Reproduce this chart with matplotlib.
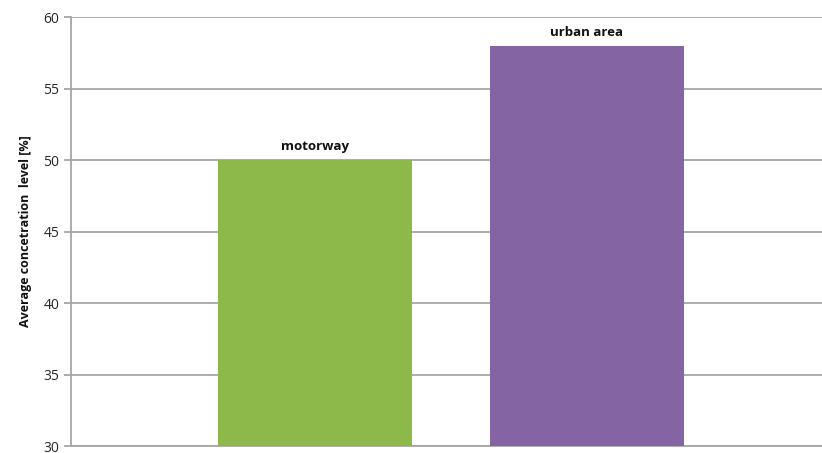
import matplotlib
matplotlib.use("Agg")
import matplotlib.pyplot as plt

categories = ["motorway", "urban area"]
values = [50, 58]
colors = ["#8DB84A", "#8564A3"]
yticks = [30, 35, 40, 45, 50, 55, 60]

plt.rcParams['font.family'] = ['Open Sans', 'DejaVu Sans']

fig = plt.figure(figsize=(8.22, 4.53), dpi=100)
ax = fig.add_axes([71/822, 1 - 446/453, (822-71)/822, (446-17)/453])

x = list(range(len(categories)))
ax.bar(x, values, width=0.714, color=colors, zorder=3)
for xi, v, c in zip(x, values, categories):
    ax.annotate(c, (xi, v), xytext=(0, 5), textcoords="offset points",
                ha="center", va="bottom", fontsize=9.5, fontweight="bold", color="#111111")

ax.set_xlim(-0.899, 1.867)
ax.set_ylim(30, 60)
ax.set_yticks(yticks)
ax.set_xticks([])
ax.yaxis.grid(True, color="#a6a6a6", linewidth=1.3, zorder=0)
for s in ["top", "right"]:
    ax.spines[s].set_visible(False)
ax.spines["left"].set_color("#a6a6a6")
ax.spines["bottom"].set_color("#a6a6a6")
ax.spines["left"].set_linewidth(1.3)
ax.spines["bottom"].set_linewidth(1.3)
ax.tick_params(axis="y", colors="#a6a6a6", labelcolor="#262626", labelsize=10, length=5, width=1.3)
for lbl in ax.get_yticklabels():
    lbl.set_verticalalignment("center_baseline")
ax.set_ylabel("Average concetration  level [%]", fontsize=9, fontweight="bold", color="#111111", labelpad=8)

fig.savefig("out.png", dpi=100)
